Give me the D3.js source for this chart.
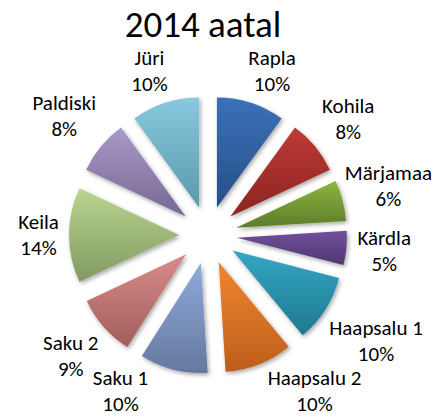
<!DOCTYPE html>
<html>
<head>
<meta charset="utf-8">
<script src="https://cdn.jsdelivr.net/npm/d3@7"></script>
<style>
  body { margin: 0; background: #fff; }
  svg text { font-family: Carlito, Calibri, "Open Sans", sans-serif; fill: #000; }
</style>
</head>
<body>
<svg id="chart" width="433" height="416"></svg>
<script>
// data
var towns = ["Rapla", "Kohila", "Märjamaa", "Kärdla", "Haapsalu 1", "Haapsalu 2",
             "Saku 1", "Saku 2", "Keila", "Paldiski", "Jüri"];
var shares = [10, 8, 6, 5, 10, 10, 10, 9, 14, 8, 10];
var topColors = ["#3b71b9", "#be3a36", "#8db540", "#70519a", "#33a7c5", "#f18630",
                 "#8eabdc", "#da8b89", "#b9d58f", "#a999c9", "#88c9df"];
var bottomColors = ["#264f88", "#8c2421", "#5d7c2a", "#503672", "#20788e", "#bd5e1c",
                    "#65789e", "#a05e5c", "#829a62", "#776892", "#5a99aa"];
var title = "2014 aatal";

var W = 433, H = 416;
var cx = 208, cy = 235;
var r = 110, explode = 29;
var titleY = 37;

var svg = d3.select("#chart");
var defs = svg.append("defs");

var shadow = defs.append("filter")
    .attr("id", "shade")
    .attr("x", "-20%").attr("y", "-20%")
    .attr("width", "140%").attr("height", "140%");
shadow.append("feDropShadow")
    .attr("dx", 1.5).attr("dy", 2)
    .attr("stdDeviation", 2.2)
    .attr("flood-color", "#000")
    .attr("flood-opacity", 0.35);

towns.forEach(function (t, i) {
    var g = defs.append("linearGradient")
        .attr("id", "grad-" + i)
        .attr("x1", 0).attr("y1", 0).attr("x2", 0).attr("y2", 1);
    g.append("stop").attr("offset", "0%").attr("stop-color", topColors[i]);
    g.append("stop").attr("offset", "100%").attr("stop-color", bottomColors[i]);
});

var pie = d3.pie().sort(null).value(function (d) { return d; });
var slices = pie(shares);

var arc = d3.arc().innerRadius(0).outerRadius(r);

function mid(d) { return (d.startAngle + d.endAngle) / 2; }

var gPie = svg.append("g").attr("transform", "translate(" + cx + "," + cy + ")");

gPie.selectAll("path.slice")
    .data(slices)
    .enter()
    .append("path")
    .attr("class", "slice")
    .attr("d", arc)
    .attr("fill", function (d, i) { return "url(#grad-" + i + ")"; })
    .attr("filter", "url(#shade)")
    .attr("transform", function (d) {
        var a = mid(d);
        return "translate(" + (Math.sin(a) * explode) + "," + (-Math.cos(a) * explode) + ")";
    });

// labels: two lines; the ink box is pushed out until its nearest point is on a ring
var fontSize = 21, lineH = 26;
var capH = fontSize * 0.64;
var ring = 149;
var lowBase = H - 5 - cy;          // lowest allowed second baseline, relative to centre
var highCap = titleY + 15 - cy;    // highest allowed cap top (clear of the title)
var rightEdge = W - 1 - cx;        // box must end left of this

function gapOf(px, py, hw, hh) {
    var dx = Math.max(0, Math.abs(px) - hw);
    var dy = Math.max(0, Math.abs(py) - hh);
    return Math.sqrt(dx * dx + dy * dy);
}

var gLab = svg.append("g").attr("transform", "translate(" + cx + "," + cy + ")");

slices.forEach(function (d, i) {
    var a = mid(d);
    var sx = Math.sin(a), sy = -Math.cos(a);
    var txt = gLab.append("text")
        .attr("font-size", fontSize)
        .attr("text-anchor", "middle");
    txt.append("tspan").attr("x", 0).attr("dy", 0).text(towns[i]);
    txt.append("tspan").attr("x", 0).attr("dy", lineH).text(shares[i] + "%");
    var hw = txt.node().getBBox().width / 2;
    var hh = (capH + lineH) / 2;
    var midY = (lineH - capH) / 2;   // ink centre below the first baseline

    var t = 0;
    while (gapOf(sx * t, sy * t, hw, hh) < ring) t += 0.5;
    var px = sx * t, py = sy * t;

    // keep labels between the title and the bottom edge, sliding them sideways off the pie
    var clamped = false;
    if (py + hh > lowBase) { py = lowBase - hh; clamped = true; }
    if (py - hh < highCap) { py = highCap + hh; clamped = true; }
    if (clamped) {
        var side = sx < 0 ? -1 : 1;
        px = 0;
        while (gapOf(px, py, hw, hh) < ring) px += side * 0.5;
    }
    if (px + hw > rightEdge) px = rightEdge - hw;

    txt.attr("transform", "translate(" + px + "," + (py - midY) + ")");
});

svg.append("text")
    .attr("x", 203)
    .attr("y", titleY)
    .attr("text-anchor", "middle")
    .attr("font-size", 37)
    .text(title);
</script>
</body>
</html>
